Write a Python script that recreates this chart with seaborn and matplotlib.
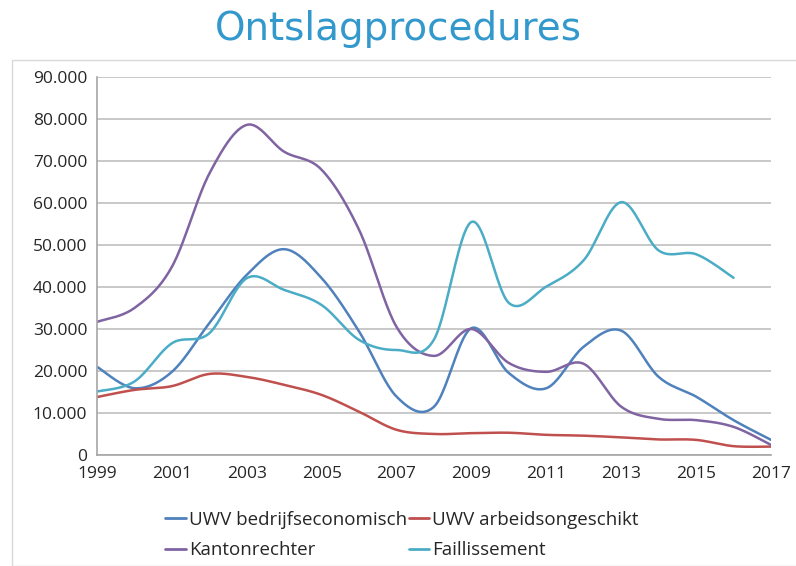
"""
plot.py
-------
Recreates the "Ontslagprocedures" chart: number of dismissal procedures per
route (UWV, kantonrechter, faillissement) from 1999 to 2017.
"""

import matplotlib
matplotlib.use("Agg")  # headless backend

import matplotlib.pyplot as plt
import numpy as np
import pandas as pd
import seaborn as sns
from matplotlib.patches import Rectangle
from matplotlib.ticker import FuncFormatter, MultipleLocator

YEARS = list(range(1999, 2018))
TICK_YEARS = YEARS[::2]

UWV_BEDRIJF = [21000, 15900, 19800, 31400, 42900, 49000, 42100, 29400, 13900,
               11500, 30200, 19500, 15900, 25800, 29600, 18600, 13900, 8300, 3600]
UWV_ARBEID = [13800, 15500, 16400, 19300, 18600, 16700, 14300, 10300, 6000,
              5000, 5200, 5300, 4800, 4600, 4200, 3700, 3600, 2100, 2000]
KANTON = [31700, 35000, 44800, 67000, 78600, 72200, 67900, 53600, 30500,
          23600, 30000, 21900, 19800, 21700, 11500, 8600, 8300, 6700, 2400]
FAILLISSEMENT = [15100, 17500, 26600, 29000, 42100, 39300, 35700, 27400, 25000,
                 27500, 55500, 36200, 40100, 46400, 60200, 48700, 47800, 42200, None]

SERIES = {
    "UWV bedrijfseconomisch": UWV_BEDRIJF,
    "UWV arbeidsongeschikt": UWV_ARBEID,
    "Kantonrechter": KANTON,
    "Faillissement": FAILLISSEMENT,
}
PALETTE = {
    "UWV bedrijfseconomisch": "#4F81BD",
    "UWV arbeidsongeschikt": "#C0504D",
    "Kantonrechter": "#8064A2",
    "Faillissement": "#4BACC6",
}
# legend fills column by column, so this order gives the row layout of the original
LEGEND_ORDER = ["UWV bedrijfseconomisch", "Kantonrechter",
                "UWV arbeidsongeschikt", "Faillissement"]


def _smooth(xs, ys, steps=24):
    """Excel-style smoothed line: Catmull-Rom segments drawn as Bezier curves."""
    pts = np.column_stack([xs, ys]).astype(float)
    out = [pts[0]]
    n = len(pts)
    t = np.linspace(0, 1, steps)[1:, None]
    for i in range(n - 1):
        p0 = pts[max(i - 1, 0)]
        p1, p2 = pts[i], pts[i + 1]
        p3 = pts[min(i + 2, n - 1)]
        c1 = p1 + (p2 - p0) / 6
        c2 = p2 - (p3 - p1) / 6
        seg = ((1 - t) ** 3) * p1 + 3 * ((1 - t) ** 2) * t * c1 \
            + 3 * (1 - t) * t ** 2 * c2 + t ** 3 * p2
        out.extend(seg)
    out = np.array(out)
    return out[:, 0], out[:, 1]


def build_frame():
    """Long-format frame of the smoothed curves for seaborn."""
    frames = []
    for name, vals in SERIES.items():
        df = pd.DataFrame({"year": YEARS, "value": vals}).dropna()
        sx, sy = _smooth(df["year"].values, df["value"].values)
        frames.append(pd.DataFrame({"year": sx, "value": sy, "serie": name}))
    return pd.concat(frames, ignore_index=True)


def plot_chart():
    sns.set_theme(style="white")
    plt.rcParams["font.family"] = ["Open Sans", "DejaVu Sans"]

    fig = plt.figure(figsize=(7.96, 5.66), dpi=100)
    ax = fig.add_axes([97 / 796, 1 - 455 / 566, 674 / 796, 378 / 566])

    # chart area frame
    fig.patches.append(Rectangle((12 / 796, 0.0), 790 / 796, 1 - 60 / 566,
                                 transform=fig.transFigure, fill=False,
                                 edgecolor="#D9D9D9", linewidth=1.0))

    data = build_frame()
    sns.lineplot(data=data, x="year", y="value", hue="serie", palette=PALETTE,
                 sort=False, estimator=None, linewidth=1.8, ax=ax, legend=False)

    ax.set_xlim(1999, 2017)
    ax.set_ylim(0, 90000)
    ax.set_xticks(TICK_YEARS)
    ax.yaxis.set_major_locator(MultipleLocator(10000))
    ax.yaxis.set_major_formatter(
        FuncFormatter(lambda v, _: f"{int(v):,}".replace(",", ".")))
    ax.grid(axis="y", color="#BFBFBF", linewidth=1.2)
    ax.set_axisbelow(True)
    ax.set_xlabel("")
    ax.set_ylabel("")
    for side in ["top", "right"]:
        ax.spines[side].set_visible(False)
    for side in ["left", "bottom"]:
        ax.spines[side].set_color("#A6A6A6")
        ax.spines[side].set_linewidth(1.2)
    ax.tick_params(axis="both", which="major", direction="out", length=5,
                   color="#A6A6A6", labelsize=12.5, labelcolor="#262626", pad=3)
    ax.tick_params(axis="y", length=4)

    fig.text(0.5, 1 - 29 / 566, "Ontslagprocedures", ha="center", va="center",
             fontsize=28, color="#3399CC", family="DejaVu Sans")

    handles = [plt.Line2D([], [], color=PALETTE[k], linewidth=2) for k in LEGEND_ORDER]
    fig.legend(handles, LEGEND_ORDER, loc="center", ncol=2,
               bbox_to_anchor=(402 / 796, 1 - 535 / 566), frameon=False,
               fontsize=13.5, handlelength=1.1, handletextpad=0.15,
               columnspacing=0.1, labelspacing=0.65,
               labelcolor="#262626")

    fig.savefig("out.png", dpi=100)
    plt.close(fig)


if __name__ == "__main__":
    plot_chart()
